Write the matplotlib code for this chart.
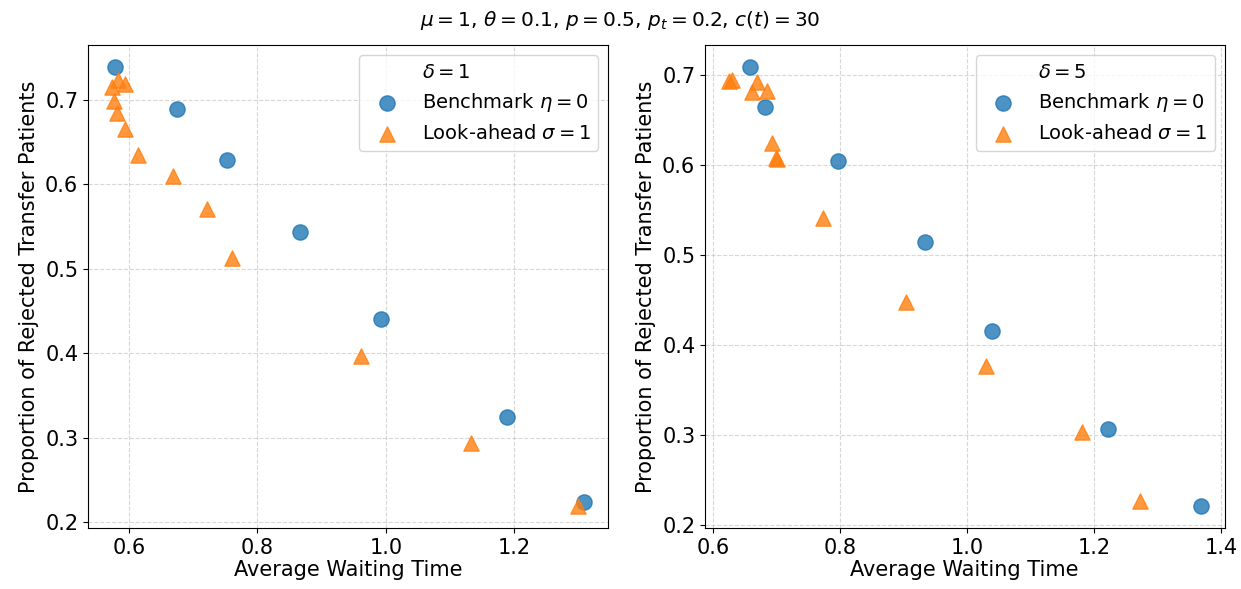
import matplotlib
matplotlib.use("Agg")
import matplotlib.pyplot as plt

# Left panel (delta = 1)
bench1_x = [0.578, 0.675, 0.753, 0.866, 0.993, 1.188, 1.309]
bench1_y = [0.739, 0.689, 0.629, 0.543, 0.440, 0.324, 0.224]
look1_x = [0.583, 0.594, 0.573, 0.576, 0.581, 0.594, 0.6145, 0.669, 0.722, 0.761, 0.961, 1.133, 1.299]
look1_y = [0.723, 0.719, 0.715, 0.699, 0.685, 0.666, 0.6345, 0.610, 0.571, 0.513, 0.397, 0.2935, 0.219]

# Right panel (delta = 5)
bench5_x = [0.658, 0.682, 0.797, 0.933, 1.039, 1.222, 1.368]
bench5_y = [0.709, 0.665, 0.604, 0.514, 0.415, 0.307, 0.221]
look5_x = [0.624, 0.630, 0.669, 0.661, 0.685, 0.692, 0.698, 0.700, 0.772, 0.903, 1.030, 1.1805, 1.2715]
look5_y = [0.693, 0.694, 0.692, 0.681, 0.682, 0.624, 0.608, 0.607, 0.5415, 0.448, 0.377, 0.303, 0.227]

panels = [
    (r"$\delta = 1$", bench1_x, bench1_y, look1_x, look1_y),
    (r"$\delta = 5$", bench5_x, bench5_y, look5_x, look5_y),
]

title = r"$\mu = 1$, $\theta = 0.1$, $p = 0.5$, $p_t = 0.2$, $c(t) = 30$"
xlabel = "Average Waiting Time"
ylabel = "Proportion of Rejected Transfer Patients"
bench_label = r"Benchmark $\eta = 0$"
look_label = r"Look-ahead $\sigma = 1$"

FS = 15
W, H = 1241, 589
fig = plt.figure(figsize=(W / 100, H / 100), dpi=100)
positions = [[88 / W, 1 - 528 / H, 520 / W, 483 / H],
             [705 / W, 1 - 528 / H, 519.5 / W, 483 / H]]

for pos, (ltitle, bx, by, lx, ly) in zip(positions, panels):
    ax = fig.add_axes(pos)
    ax.plot([], [], ' ', label=ltitle)
    ax.scatter(bx, by, s=120, marker='o', color='#1f77b4', alpha=0.8, label=bench_label, zorder=3)
    ax.scatter(lx, ly, s=120, marker='^', color='#ff7f0e', alpha=0.8, label=look_label, zorder=3)
    ax.grid(True, linestyle='--', alpha=0.5)
    ax.set_axisbelow(True)
    ax.set_xlabel(xlabel, fontsize=FS, labelpad=2)
    ax.set_ylabel(ylabel, fontsize=FS)
    ax.tick_params(labelsize=FS)
    ax.legend(loc='upper right', fontsize=14)

fig.suptitle(title, fontsize=14.5, y=0.985)
fig.savefig("out.png", dpi=100)
